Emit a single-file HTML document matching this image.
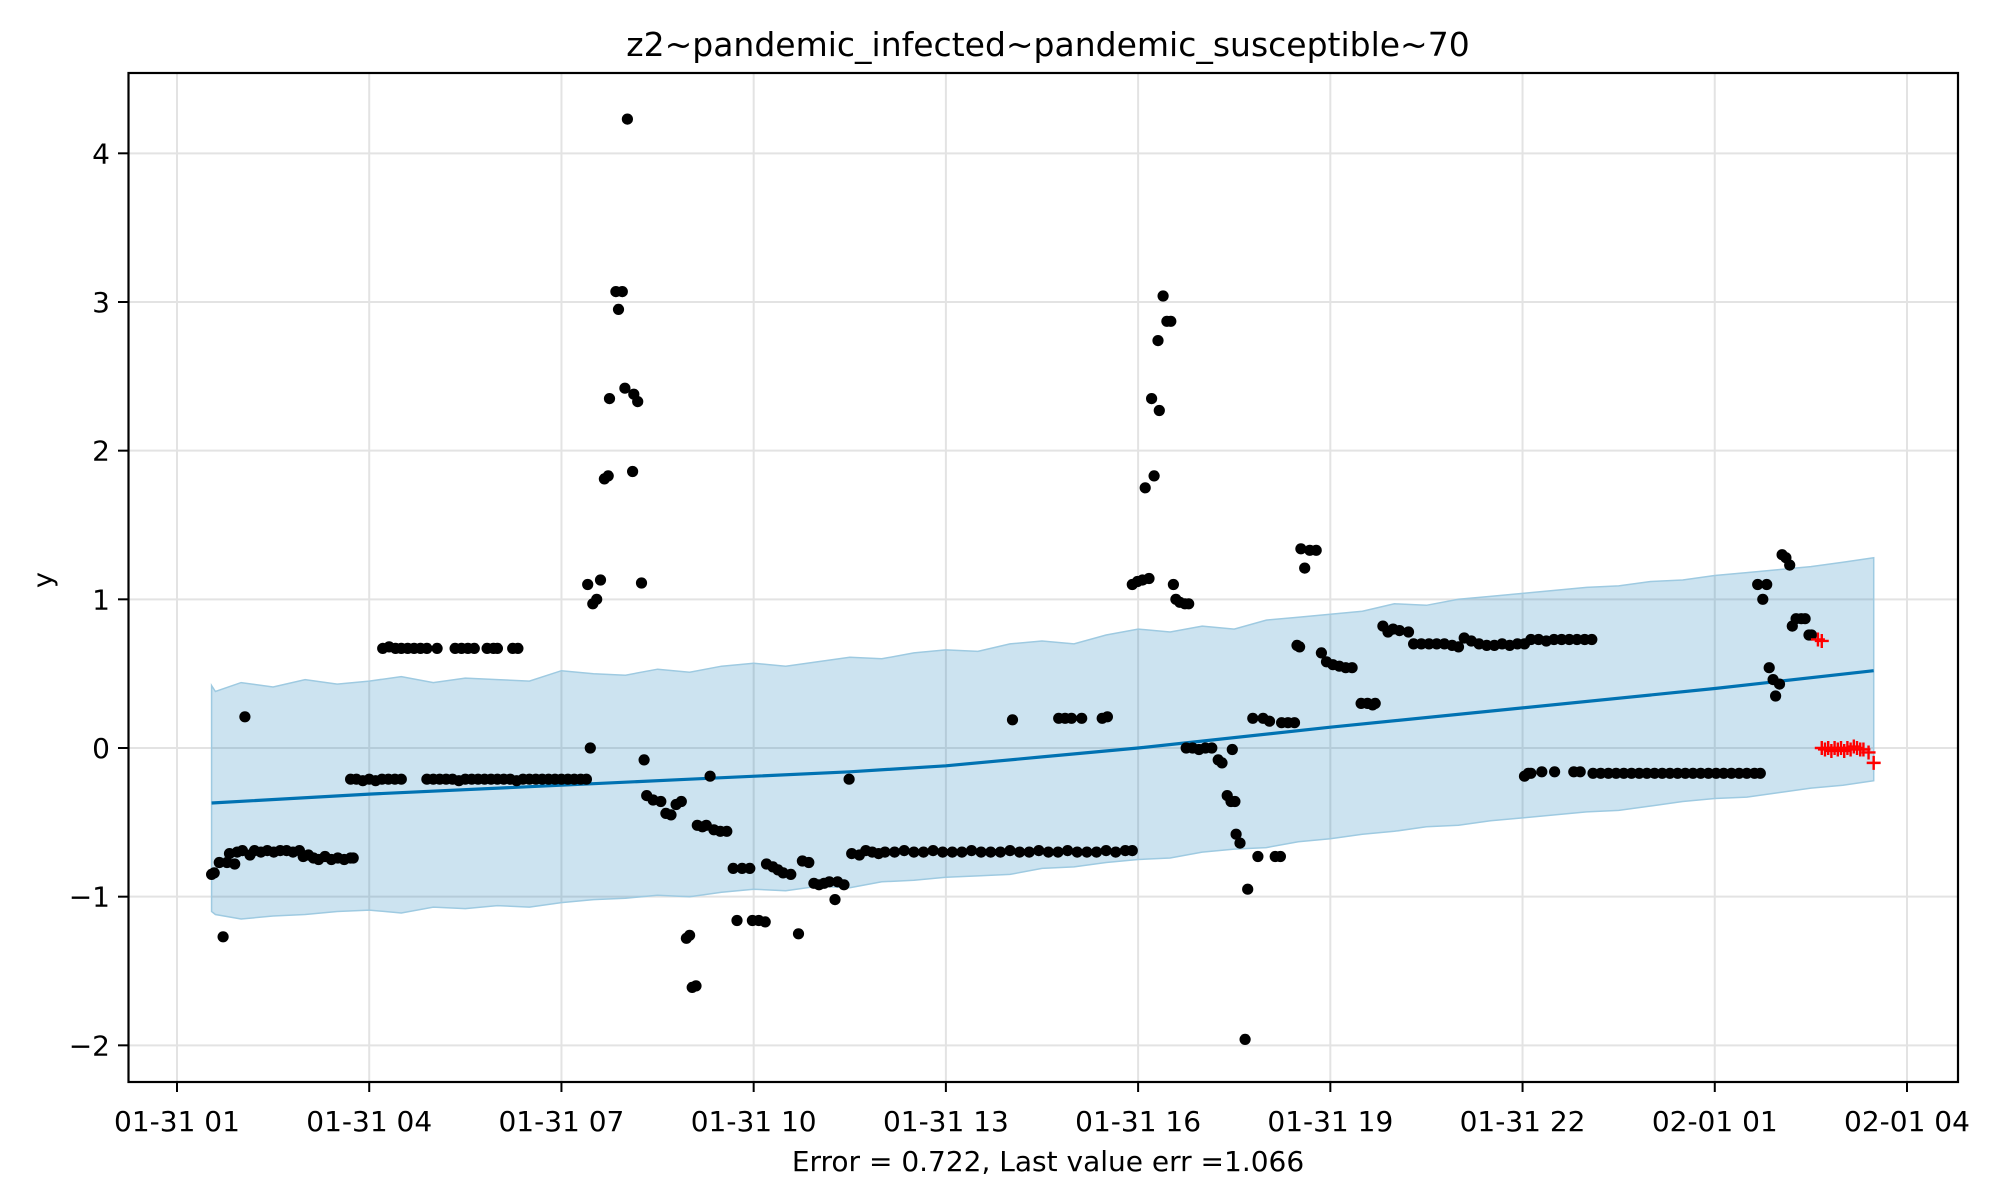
<!DOCTYPE html>
<html><head><meta charset="utf-8"><style>
html,body{margin:0;padding:0;background:#fff;}
svg{display:block;font-family:"DejaVu Sans","Liberation Sans",sans-serif;}
</style></head><body>
<svg id="chart" width="2000" height="1200" viewBox="0 0 2000 1200" xmlns="http://www.w3.org/2000/svg">
<rect width="2000" height="1200" fill="#fff"/>
<g id="grid"></g>
<g id="band"></g>
<g id="line"></g>
<g id="pts"></g>
<g id="red"></g>
<rect x="128.5" y="73" width="1829.5" height="1009" fill="none" stroke="#000" stroke-width="2.2"/>
<g id="axes"></g>
<text x="1048" y="56" font-size="33" text-anchor="middle">z2~pandemic_infected~pandemic_susceptible~70</text>
<text x="1048" y="1171" font-size="28" text-anchor="middle">Error = 0.722, Last value err =1.066</text>
<text x="0" y="0" font-size="27" text-anchor="middle" transform="translate(52,580) rotate(-90)">y</text>
</svg>
<script>
const xTickHours=[1,4,7,10,13,16,19,22,25,28];
const xTickLabels=["01-31 01","01-31 04","01-31 07","01-31 10","01-31 13","01-31 16","01-31 19","01-31 22","02-01 01","02-01 04"];
const yTicks=[-2,-1,0,1,2,3,4];
const yTickLabels=["\u22122","\u22121","0","1","2","3","4"];
const lineHours=[1.54,4,7,9,11.5,13,14.5,16,19,22,25,27.48];
const lineVals=[-0.37,-0.31,-0.25,-0.21,-0.16,-0.12,-0.06,0.0,0.14,0.27,0.40,0.52];
const bandHours=[1.54,1.6,2.0,2.5,3.0,3.5,4.0,4.5,5.0,5.5,6.0,6.5,7.0,7.5,8.0,8.5,9.0,9.5,10.0,10.5,11.0,11.5,12.0,12.5,13.0,13.5,14.0,14.5,15.0,15.5,16.0,16.5,17.0,17.5,18.0,18.5,19.0,19.5,20.0,20.5,21.0,21.5,22.0,22.5,23.0,23.5,24.0,24.5,25.0,25.5,26.0,26.5,27.0,27.48];
const bandUpper=[0.42,0.38,0.44,0.41,0.46,0.43,0.45,0.48,0.44,0.47,0.46,0.45,0.52,0.50,0.49,0.53,0.51,0.55,0.57,0.55,0.58,0.61,0.60,0.64,0.66,0.65,0.70,0.72,0.70,0.76,0.80,0.78,0.82,0.80,0.86,0.88,0.90,0.92,0.97,0.96,1.00,1.02,1.04,1.06,1.08,1.09,1.12,1.13,1.16,1.18,1.20,1.22,1.25,1.28];
const bandLower=[-1.10,-1.12,-1.15,-1.13,-1.12,-1.10,-1.09,-1.11,-1.07,-1.08,-1.06,-1.07,-1.04,-1.02,-1.01,-0.99,-1.00,-0.97,-0.95,-0.96,-0.93,-0.94,-0.90,-0.89,-0.87,-0.86,-0.85,-0.81,-0.80,-0.77,-0.75,-0.74,-0.70,-0.68,-0.67,-0.63,-0.61,-0.58,-0.56,-0.53,-0.52,-0.49,-0.47,-0.45,-0.43,-0.42,-0.39,-0.36,-0.34,-0.33,-0.30,-0.27,-0.25,-0.22];
const ptHours=[1.54,1.58,1.66,1.72,1.78,1.82,1.90,1.94,2.02,2.06,2.14,2.21,2.31,2.41,2.51,2.61,2.71,2.81,2.91,2.97,3.05,3.13,3.21,3.31,3.41,3.51,3.61,3.71,3.75,
3.71,3.80,3.90,4.00,4.10,4.20,4.30,4.40,4.50,
4.21,4.31,4.41,4.50,4.60,4.70,4.80,4.90,5.06,5.34,5.44,5.54,5.64,5.84,5.94,6.00,6.24,6.32,
4.90,5.00,5.10,5.20,5.30,5.40,5.50,5.60,5.70,5.80,5.90,6.00,6.10,6.20,6.30,6.40,6.50,6.60,6.70,6.80,6.90,7.00,7.10,7.20,7.30,7.39,
7.41,7.45,7.49,7.55,7.61,7.67,7.73,7.75,7.85,7.89,7.95,7.99,8.03,8.11,8.13,8.19,8.25,8.29,8.33,8.43,8.55,8.63,8.71,8.79,8.87,8.95,9.00,9.04,9.10,9.12,9.20,9.26,9.32,9.38,9.48,9.58,9.68,9.74,9.82,9.94,9.98,10.08,10.18,10.20,10.30,10.38,10.46,10.58,10.70,10.76,10.86,10.94,11.02,11.10,11.18,11.27,11.31,11.41,11.49,
11.53,11.65,11.75,11.85,11.95,12.05,12.2,12.35,12.5,12.65,12.8,12.95,13.1,13.25,13.4,13.55,13.7,13.85,14.0,14.15,14.3,14.45,14.6,14.75,14.9,15.05,15.2,15.35,15.5,15.65,15.8,15.91,
14.04,14.76,14.86,14.96,15.12,15.44,15.52,
15.91,15.99,16.07,16.11,16.17,16.21,16.25,16.31,16.33,16.39,16.45,16.51,16.55,16.59,16.65,16.73,16.79,16.75,16.85,16.95,17.05,17.15,17.25,17.31,17.39,17.45,17.51,17.47,17.53,17.59,17.67,17.71,17.79,17.87,17.95,18.05,18.14,18.24,18.34,18.44,18.22,18.48,18.52,18.54,18.60,18.68,18.78,18.86,18.94,19.04,19.14,19.24,19.34,19.48,19.58,19.66,19.70,19.82,19.90,19.98,20.08,20.22,
20.30,20.42,20.54,20.66,20.78,20.90,21.00,21.09,21.2,21.32,21.44,21.56,21.68,21.8,21.92,22.03,
22.03,22.09,22.13,22.25,22.37,22.49,22.61,22.73,22.85,22.97,23.08,
22.13,22.3,22.5,22.8,22.9,23.1,23.22,23.34,23.46,23.58,23.7,23.82,23.94,24.06,24.18,24.3,24.42,24.54,24.66,24.78,24.9,25.02,25.14,25.26,25.38,25.5,25.62,25.71,
25.67,25.75,25.81,25.85,25.91,25.95,26.01,26.05,26.11,26.17,26.21,26.27,26.35,26.41,26.47,26.51];
const ptVals=[-0.85,-0.84,-0.77,-1.27,-0.77,-0.71,-0.78,-0.70,-0.69,0.21,-0.72,-0.69,-0.70,-0.69,-0.70,-0.69,-0.69,-0.70,-0.69,-0.73,-0.72,-0.74,-0.75,-0.73,-0.75,-0.74,-0.75,-0.74,-0.74,
-0.21,-0.21,-0.22,-0.21,-0.22,-0.21,-0.21,-0.21,-0.21,
0.67,0.68,0.67,0.67,0.67,0.67,0.67,0.67,0.67,0.67,0.67,0.67,0.67,0.67,0.67,0.67,0.67,0.67,
-0.21,-0.21,-0.21,-0.21,-0.21,-0.22,-0.21,-0.21,-0.21,-0.21,-0.21,-0.21,-0.21,-0.21,-0.22,-0.21,-0.21,-0.21,-0.21,-0.21,-0.21,-0.21,-0.21,-0.21,-0.21,-0.21,
1.10,0.0,0.97,1.0,1.13,1.81,1.83,2.35,3.07,2.95,3.07,2.42,4.23,1.86,2.38,2.33,1.11,-0.08,-0.32,-0.35,-0.36,-0.44,-0.45,-0.38,-0.36,-1.28,-1.26,-1.61,-1.60,-0.52,-0.53,-0.52,-0.19,-0.55,-0.56,-0.56,-0.81,-1.16,-0.81,-0.81,-1.16,-1.16,-1.17,-0.78,-0.80,-0.82,-0.84,-0.85,-1.25,-0.76,-0.77,-0.91,-0.92,-0.91,-0.90,-1.02,-0.90,-0.92,-0.21,
-0.71,-0.72,-0.69,-0.70,-0.71,-0.70,-0.70,-0.69,-0.70,-0.70,-0.69,-0.70,-0.70,-0.70,-0.69,-0.70,-0.70,-0.70,-0.69,-0.70,-0.70,-0.69,-0.70,-0.70,-0.69,-0.70,-0.70,-0.70,-0.69,-0.70,-0.69,-0.69,
0.19,0.20,0.20,0.20,0.20,0.20,0.21,
1.10,1.12,1.13,1.75,1.14,2.35,1.83,2.74,2.27,3.04,2.87,2.87,1.10,1.00,0.98,0.97,0.97,0.0,0.0,-0.01,0.0,0.0,-0.08,-0.10,-0.32,-0.36,-0.36,-0.01,-0.58,-0.64,-1.96,-0.95,0.20,-0.73,0.20,0.18,-0.73,0.17,0.17,0.17,-0.73,0.69,0.68,1.34,1.21,1.33,1.33,0.64,0.58,0.56,0.55,0.54,0.54,0.30,0.30,0.29,0.30,0.82,0.78,0.80,0.79,0.78,
0.70,0.70,0.70,0.70,0.70,0.69,0.68,0.74,0.72,0.70,0.69,0.69,0.70,0.69,0.70,0.70,
-0.19,-0.17,0.73,0.73,0.72,0.73,0.73,0.73,0.73,0.73,0.73,
-0.17,-0.16,-0.16,-0.16,-0.16,-0.17,-0.17,-0.17,-0.17,-0.17,-0.17,-0.17,-0.17,-0.17,-0.17,-0.17,-0.17,-0.17,-0.17,-0.17,-0.17,-0.17,-0.17,-0.17,-0.17,-0.17,-0.17,-0.17,
1.10,1.0,1.10,0.54,0.46,0.35,0.43,1.30,1.28,1.23,0.82,0.87,0.87,0.87,0.76,0.76];
const redHours=[26.61,26.67,26.67,26.72,26.77,26.82,26.87,26.92,26.97,27.02,27.07,27.12,27.17,27.22,27.27,27.32,27.40,27.48];
const redVals=[0.73,0.72,0.0,-0.01,0.0,-0.02,0.0,-0.01,0.0,-0.02,0.0,-0.01,0.01,0.0,-0.01,-0.01,-0.03,-0.10];

const NS="http://www.w3.org/2000/svg";
function xs(h){return 177+(h-1)*64.074;}
function ys(v){return 748-v*148.67;}
function mk(tag,attrs,parent){const e=document.createElementNS(NS,tag);for(const k in attrs)e.setAttribute(k,attrs[k]);parent.appendChild(e);return e;}
const grid=document.getElementById('grid'),axes=document.getElementById('axes');
xTickHours.forEach((h,i)=>{
  const x=xs(h);
  const g=mk('line',{x1:x,x2:x,y1:73,y2:1082,stroke:'#e3e3e3','stroke-width':2},grid);
  
  
  const t=mk('line',{x1:x,x2:x,y1:1082,y2:1092,stroke:'#000','stroke-width':2},axes);
  
  
  const l=mk('text',{x:x,y:1131,'font-size':28,'text-anchor':'middle'},axes);
  l.textContent=xTickLabels[i];
  
  
});
yTicks.forEach((v,i)=>{
  const y=ys(v);
  const g=mk('line',{x1:128,x2:1958,y1:y,y2:y,stroke:'#e3e3e3','stroke-width':2},grid);
  
  
  const t=mk('line',{x1:118,x2:128,y1:y,y2:y,stroke:'#000','stroke-width':2},axes);
  
  
  const l=mk('text',{x:110,y:y+10,'font-size':28,'text-anchor':'end'},axes);
  l.textContent=yTickLabels[i];
  
  
});
let d='';
bandHours.forEach((h,i)=>{d+=(i?'L':'M')+xs(h).toFixed(1)+','+ys(bandUpper[i]).toFixed(1);});
for(let i=bandHours.length-1;i>=0;i--)d+='L'+xs(bandHours[i]).toFixed(1)+','+ys(bandLower[i]).toFixed(1);
d+='Z';
const band=mk('path',{d:d,fill:'#0072B2','fill-opacity':0.2,stroke:'#9ecae1','stroke-width':1.5},document.getElementById('band'));


let ld='';
lineHours.forEach((h,i)=>{ld+=(i?'L':'M')+xs(h).toFixed(1)+','+ys(lineVals[i]).toFixed(1);});
const ln=mk('path',{d:ld,fill:'none',stroke:'#0072B2','stroke-width':3.2},document.getElementById('line'));


const pts=document.getElementById('pts');
ptHours.forEach((h,i)=>{
  const c=mk('circle',{cx:xs(h).toFixed(1),cy:ys(ptVals[i]).toFixed(1),r:5.6,fill:'#000'},pts);
  
  
});
const red=document.getElementById('red');
redHours.forEach((h,i)=>{
  const x=xs(h),y=ys(redVals[i]);
  const p=mk('path',{d:`M${x-7},${y}H${x+7}M${x},${y-7}V${y+7}`,stroke:'#ff0000','stroke-width':2.4,fill:'none'},red);
  
  
});
</script>
</body></html>
